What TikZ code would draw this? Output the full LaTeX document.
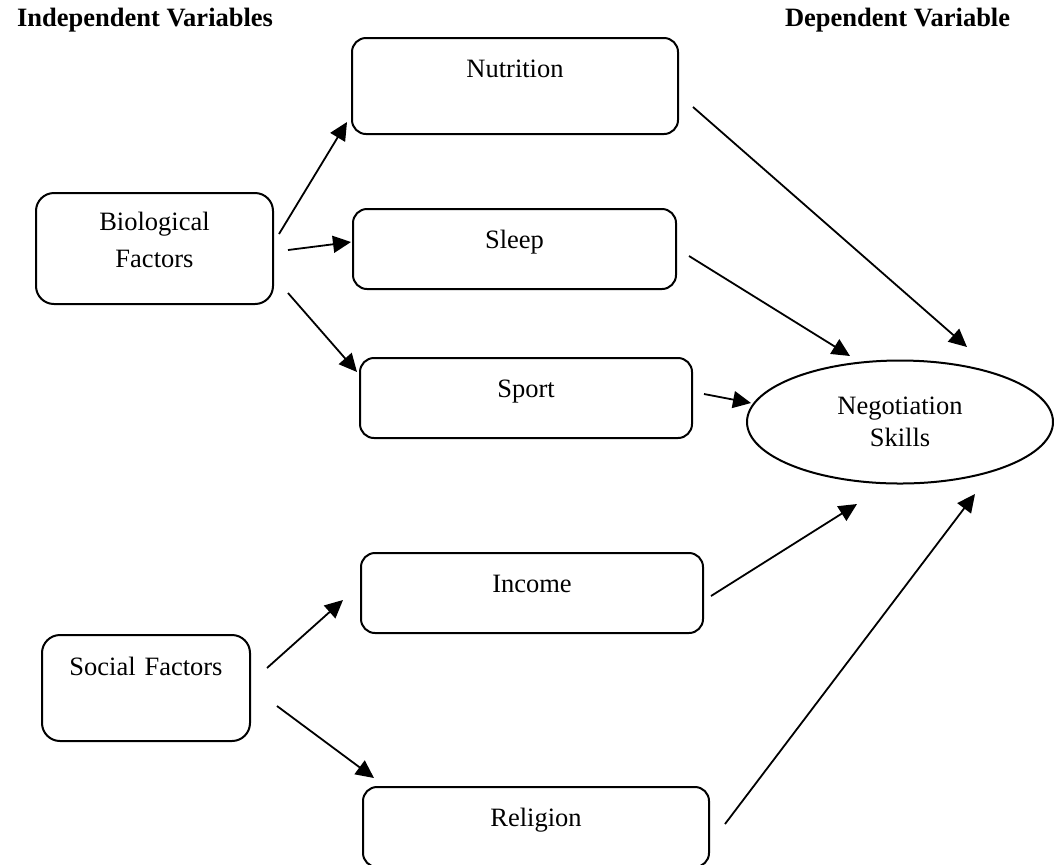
\documentclass[tikz,border=0pt]{standalone}
\usepackage{fontspec}
\setmainfont{Liberation Serif}
\usepackage{tikz}
\usetikzlibrary{shapes.geometric,arrows.meta}

\begin{document}
\begin{tikzpicture}
		[x=0.5pt,y=-0.5pt,
		%Styles
		every node/.style={font=\fontsize{13.25}{16}\selectfont},
		heading/.style={anchor=west,font=\fontsize{13.25}{16}\selectfont\bfseries},
		factor node/.style={rectangle,draw,line width=1pt,rounded corners=7pt,anchor=north west,
			inner sep=0pt,align=center,text height=19.5pt,text depth=20.5pt},
		outcome node/.style={ellipse,draw,line width=1pt,inner sep=0pt,align=center,
			minimum width=153pt,minimum height=61.5pt},
		link/.style={-{Triangle[length=9pt,width=8.5pt]},line width=0.9pt}
		]
		\useasboundingbox (0,0) rectangle (1054,864);
		
		%Headings
		\node[heading] (indep) at (10,20) {Independent Variables};
		\node[heading] (dep) at (778,20) {Dependent Variable};
		
		%Factors
		\node[factor node,text width=118.5pt,rounded corners=9pt,text height=18.5pt,text depth=37pt]
			(bio) at (35,192) {Biological\\[2.5pt]Factors};
		\node[factor node,text width=104pt,rounded corners=9pt,text height=20pt,text depth=33pt]
			(social) at (41,634) {Social Factors};
		\node[factor node,text width=163pt,text depth=28.5pt] (nutrition) at (351,37) {Nutrition};
		\node[factor node,text width=161.5pt] (sleep) at (352,208) {Sleep};
		\node[factor node,text width=166pt] (sport) at (359,357) {Sport};
		\node[factor node,text width=171pt] (income) at (360,552) {Income};
		\node[factor node,text width=173pt] (religion) at (362,786) {Religion};
		
		\node[outcome node] (skills) at (900,422) {Negotiation\\Skills};
		
		%Links
		\draw[link] ([xshift=2.5pt,yshift=7.25pt]bio.east) -- ([xshift=-2pt,yshift=6.5pt]nutrition.south west);
		\draw[link] ([xshift=7pt,yshift=-0.75pt]bio.east) -- ([xshift=-0.5pt,yshift=3.5pt]sleep.west);
		\draw[link] ([xshift=7pt,yshift=-22.25pt]bio.east) -- ([xshift=-1pt,yshift=-7.5pt]sport.north west);
		\draw[link] ([xshift=8pt,yshift=10pt]social.east) -- ([xshift=-8.5pt,yshift=-3.5pt]income.west);
		\draw[link] ([xshift=13pt,yshift=-9pt]social.east) -- ([xshift=6pt,yshift=4pt]religion.north west);
		\draw[link] ([xshift=7pt,yshift=-10.5pt]nutrition.east) -- ([xshift=33.5pt,yshift=6.25pt]skills.north);
		\draw[link] ([xshift=6pt,yshift=-3.5pt]sleep.east) -- ([xshift=-25pt,yshift=1.75pt]skills.north);
		\draw[link] ([xshift=5.5pt,yshift=2pt]sport.east) -- ([xshift=2.5pt,yshift=9.5pt]skills.west);
		\draw[link] ([xshift=3.5pt,yshift=-1.5pt]income.east) -- ([xshift=-21.5pt,yshift=-9.75pt]skills.south);
		\draw[link] ([xshift=7.5pt,yshift=1.5pt]religion.east) -- ([xshift=37.5pt,yshift=-4.75pt]skills.south);
	\end{tikzpicture}
\end{document}
